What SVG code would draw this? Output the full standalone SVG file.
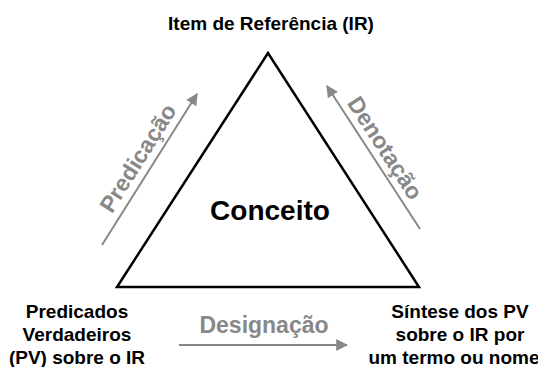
<svg xmlns="http://www.w3.org/2000/svg" width="538" height="367" viewBox="0 0 538 367">
<style>
.lbl{font-family:"Liberation Sans",Arial,sans-serif;font-weight:bold;font-size:19px;fill:#000;text-anchor:middle}
.rel{font-family:"Liberation Sans",Arial,sans-serif;font-weight:bold;font-size:23px;fill:#888;text-anchor:middle}
.arr{stroke:#888;stroke-width:2;fill:none;marker-end:url(#ah)}
</style>
<defs>
<marker id="ah" viewBox="0 0 10 10" refX="9" refY="5" markerWidth="6" markerHeight="6" markerUnits="strokeWidth" orient="auto">
<path d="M0,0 L10,5 L0,10 z" fill="#888"/>
</marker>
</defs>
<rect width="538" height="367" fill="#fff"/>
<g id="triangle">
<polygon points="268,53 117,287 419,287" fill="none" stroke="#000" stroke-width="2.5" stroke-linejoin="miter"/>
</g>
<g id="concept"><text class="lbl" x="270" y="220" style="font-size:28px">Conceito</text></g>
<g id="ir"><text class="lbl" x="271" y="30">Item de Referência (IR)</text></g>
<g id="pv">
<text class="lbl" x="77" y="318">Predicados</text>
<text class="lbl" x="77" y="341">Verdadeiros</text>
<text class="lbl" x="77" y="364">(PV) sobre o IR</text>
</g>
<g id="sintese">
<text class="lbl" x="460" y="318">Síntese dos PV</text>
<text class="lbl" x="460" y="341">sobre o IR por</text>
<text class="lbl" x="454" y="364">um termo ou nome</text>
</g>
<g id="connectors">
<line class="arr" x1="102" y1="245" x2="197" y2="94"/>
<line class="arr" x1="420" y1="229" x2="327" y2="86"/>
<line class="arr" x1="179" y1="345" x2="347" y2="345"/>
<text class="rel" transform="translate(144.6,162.2) rotate(-57.8)">Predicação</text>
<text class="rel" transform="translate(378.5,152.3) rotate(57)">Denotação</text>
<text class="rel" x="264" y="333">Designação</text>
</g>
</svg>
